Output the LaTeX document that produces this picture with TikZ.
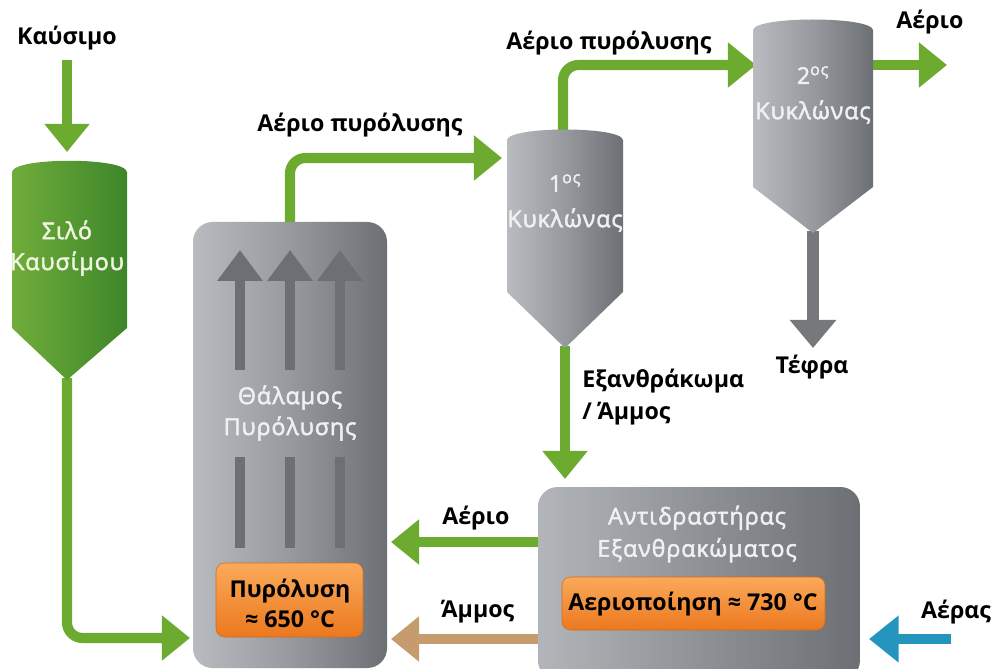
\documentclass[tikz,border=0pt]{standalone}
\usepackage{fontspec}
\setmainfont{Open Sans}
\newfontfamily\innerfont[LetterSpace=4,FakeBold=2.2]{Open Sans}
\usetikzlibrary{arrows.meta}
\definecolor{pipegreen}{RGB}{108,171,48}
\definecolor{sand}{RGB}{198,156,110}
\definecolor{airblue}{RGB}{36,150,190}
\definecolor{ashgray}{RGB}{118,120,124}
\definecolor{flowgray}{RGB}{108,111,116}
\definecolor{silolight}{RGB}{112,172,58}
\definecolor{silodark}{RGB}{62,134,42}
\definecolor{steellight}{RGB}{184,187,191}
\definecolor{steelmid}{RGB}{150,153,158}
\definecolor{steeldark}{RGB}{108,111,116}
\definecolor{orangetop}{RGB}{250,170,90}
\definecolor{orangebot}{RGB}{236,120,30}
\definecolor{innertext}{RGB}{238,240,242}
\definecolor{silotext}{RGB}{238,246,224}
\tikzset{
  pipe/.style={line width=7.2pt, draw=pipegreen, -{Triangle[width=31pt,length=20pt]}},
  lbl/.style={font=\fontsize{16.5pt}{23pt}\selectfont\bfseries, text=black, inner sep=0pt, align=center},
  innerlbl/.style={font=\fontsize{16.5pt}{22pt}\selectfont\innerfont, text=innertext, inner sep=0pt, align=center},
  hotbox/.style={rounded corners=6pt, top color=orangetop, bottom color=orangebot, draw=orangebot!90!black, line width=0.4pt},
  steel/.style={left color=steellight, right color=steeldark, middle color=steelmid},
}
\begin{document}
\begin{tikzpicture}[x=0.025cm, y=-0.025cm]
\useasboundingbox (0,0) rectangle (999,669);
\fill[white] (0,0) rectangle (999,669);

% named anchor points
\coordinate (fuelTop) at (67,60);
\coordinate (siloTop) at (67,152);
\coordinate (siloTip) at (67,378);
\coordinate (siloBend) at (67,638);
\coordinate (chamberIn) at (190,638);
\coordinate (chamberTop) at (290,224);
\coordinate (chamberBend) at (290,158);
\coordinate (cycOneIn) at (502,158);
\coordinate (cycOneTop) at (563,130);
\coordinate (cycOneBend) at (563,65);
\coordinate (cycTwoIn) at (756,65);
\coordinate (cycTwoOut) at (871,65);
\coordinate (gasOut) at (947,65);
\coordinate (cycTwoTip) at (813,231);
\coordinate (ashOut) at (813,348);
\coordinate (cycOneTip) at (565,346);
\coordinate (reactorTop) at (565,479);
\coordinate (reactorGas) at (540,542);
\coordinate (chamberGas) at (391,542);
\coordinate (reactorSand) at (540,639);
\coordinate (chamberSand) at (391,639);
\coordinate (airIn) at (951,639);
\coordinate (reactorAir) at (869,639);

% pipes (behind the vessels)
\draw[pipe] (fuelTop) -- (siloTop);
\draw[pipe, rounded corners=11pt] (siloTip) -- (siloBend) -- (chamberIn);
\draw[pipe, rounded corners=11pt] (chamberTop) -- (chamberBend) -- (cycOneIn);
\draw[pipe, rounded corners=11pt] (cycOneTop) -- (cycOneBend) -- (cycTwoIn);
\draw[pipe] (cycTwoOut) -- (gasOut);
\draw[line width=8pt, draw=ashgray, -{Triangle[width=32pt,length=20pt]}] (cycTwoTip) -- (ashOut);
\draw[pipe] (cycOneTip) -- (reactorTop);

% fuel silo
\shade[left color=silolight, right color=silodark]
  (12,172) .. controls (14,157) and (125,157) .. (127,172)
  -- (127,328) -- (67,380) -- (12,328) -- cycle;
\node[innerlbl, text=silotext] (silo) at (67,248) {Σιλό\\Καυσίμου};

% pyrolysis chamber
\shade[steel, rounded corners=14pt] (193,222) rectangle (387,668);
\foreach \cx in {240,290,340}{
  \draw[line width=7pt, draw=flowgray, -{Triangle[width=31pt,length=22pt]}] (\cx,370) -- (\cx,250);
  \draw[line width=7pt, draw=flowgray] (\cx,457) -- (\cx,548);
}
\node[innerlbl] (chamber) at (290,413) {Θάλαμος\\Πυρόλυσης};
\shade[hotbox] (216,563) rectangle (363,637);
\node[lbl, font=\fontsize{16.5pt}{21.5pt}\selectfont\bfseries] (pyro) at (290,603) {Πυρόλυση\\≈ 650 °C};

% cyclone 1
\shade[steel]
  (507,140) .. controls (509,126) and (621,126) .. (623,140)
  -- (623,292) -- (565,348) -- (507,292) -- cycle;
\node[innerlbl] (cycOne) at (565,203) {1\textsuperscript{ος}\\[3pt]Κυκλώνας};

% cyclone 2
\shade[steel]
  (753,30) .. controls (755,16) and (871,16) .. (873,30)
  -- (873,187) -- (813,233) -- (753,187) -- cycle;
\node[innerlbl] (cycTwo) at (813,95) {2\textsuperscript{ος}\\[3pt]Κυκλώνας};

% char reactor
\draw[pipe] (reactorGas) -- (chamberGas);
\draw[line width=7.2pt, draw=sand, -{Triangle[width=31pt,length=20pt]}] (reactorSand) -- (chamberSand);
\draw[line width=7.2pt, draw=airblue, -{Triangle[width=32pt,length=21pt]}] (airIn) -- (reactorAir);
\shade[left color=steellight!90!gray, right color=steeldark, middle color=steelmid!95!black, rounded corners=14pt] (538,487) rectangle (860,680);
\node[innerlbl, font=\fontsize{16.5pt}{23pt}\selectfont\innerfont] (reactor) at (697,534) {Αντιδραστήρας\\Εξανθρακώματος};
\shade[hotbox] (562,577) rectangle (825,630);
\node[lbl] (gasif) at (693,604) {Αεριοποίηση ≈ 730 °C};

% labels
\node[lbl] (fuel) at (67,38) {Καύσιμο};
\node[lbl] (gasA) at (360,125) {Αέριο πυρόλυσης};
\node[lbl] (gasB) at (609,43) {Αέριο πυρόλυσης};
\node[lbl] (gasC) at (930,22) {Αέριο};
\node[lbl] (ash) at (812,367) {Τέφρα};
\node[lbl, anchor=west, align=left] (char) at (582,397) {Εξανθράκωμα\\/ Άμμος};
\node[lbl] (gasD) at (476,518) {Αέριο};
\node[lbl] (sandlbl) at (478,612) {Άμμος};
\node[lbl] (air) at (956,612) {Αέρας};
\end{tikzpicture}
\end{document}
